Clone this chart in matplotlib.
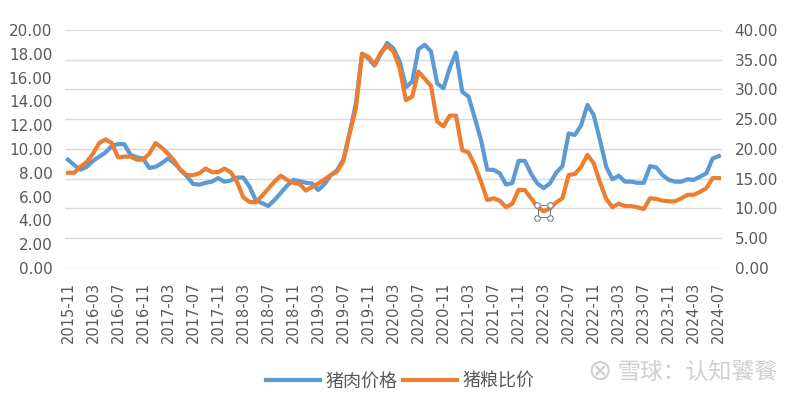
import matplotlib
matplotlib.use("Agg")
import matplotlib.pyplot as plt
import matplotlib.transforms as mtransforms
import numpy as np
import pandas as pd

plt.rcParams['font.family'] = ['DejaVu Sans', 'Noto Sans CJK SC']

months = [p.strftime('%Y-%m') for p in pd.period_range('2015-11', '2024-07', freq='M')]

# 猪肉价格 (right axis)
pork_price = [18.2, 17.3, 16.5, 17.0, 18.0, 18.7, 19.4, 20.5, 20.8, 20.8,
              19.0, 18.6, 18.4, 16.8, 17.0, 17.6, 18.4, 17.6, 16.5, 15.4,
              14.1, 14.0, 14.3, 14.5, 15.1, 14.5, 14.7, 15.2, 15.2, 13.7,
              11.4, 10.9, 10.4, 11.4, 12.6, 13.8, 14.8, 14.6, 14.3, 14.2,
              13.1, 14.1, 15.6, 16.4, 18.2, 22.6, 27.6, 36.0, 35.2, 34.0,
              36.0, 37.8, 36.9, 34.7, 30.4, 31.3, 36.75, 37.5, 36.4, 31.0,
              30.2, 33.6, 36.2, 29.6, 28.8, 25.2, 21.5, 16.5, 16.5, 15.9,
              14.0, 14.3, 18.0, 18.0, 15.8, 14.2, 13.4, 14.2, 16.0, 17.1,
              22.6, 22.35, 24.0, 27.4, 25.7, 21.5, 17.0, 14.9, 15.5, 14.5,
              14.5, 14.3, 14.3, 17.1, 16.9, 15.6, 14.8, 14.5, 14.5, 14.9,
              14.8, 15.35, 15.9, 18.4, 18.8]

# 猪粮比价 (left axis)
hog_grain_ratio = [8.0, 8.0, 8.5, 8.9, 9.6, 10.5, 10.8, 10.5, 9.3, 9.35,
                   9.35, 9.1, 9.1, 9.6, 10.5, 10.1, 9.6, 9.0, 8.2, 7.8,
                   7.8, 7.95, 8.35, 8.05, 8.05, 8.35, 8.05, 7.25, 5.95, 5.55,
                   5.5, 6.05, 6.65, 7.25, 7.75, 7.4, 7.15, 7.05, 6.5, 6.8,
                   7.1, 7.45, 7.8, 8.1, 8.95, 11.3, 13.4, 18.0, 17.75, 17.1,
                   18.1, 18.65, 18.2, 16.8, 14.1, 14.4, 16.5, 15.9, 15.3, 12.3,
                   11.9, 12.8, 12.8, 9.9, 9.7, 8.65, 7.25, 5.7, 5.85, 5.65,
                   5.1, 5.4, 6.55, 6.55, 5.85, 5.15, 4.75, 5.0, 5.5, 5.85,
                   7.8, 7.9, 8.5, 9.5, 8.8, 7.2, 5.8, 5.1, 5.4, 5.2,
                   5.2, 5.1, 4.95, 5.85, 5.8, 5.65, 5.6, 5.6, 5.85, 6.15,
                   6.15, 6.4, 6.7, 7.55, 7.55]

left_ticks = [0, 2, 4, 6, 8, 10, 12, 14, 16, 18, 20]
right_ticks = [0, 5, 10, 15, 20, 25, 30, 35, 40]

BLUE = '#5B9BD5'
ORANGE = '#ED7D31'
TXT = '#595959'

fig = plt.figure(figsize=(8, 3.94), dpi=100)
ax = fig.add_axes([0.081, 0.32, 0.8215, 0.604])
ax2 = ax.twinx()
ax.set_zorder(ax2.get_zorder() + 1)
ax.patch.set_visible(False)

x = np.arange(len(months))
l1, = ax2.plot(x, pork_price, color=BLUE, lw=3.0, solid_joinstyle='round', label='猪肉价格')
l2, = ax.plot(x, hog_grain_ratio, color=ORANGE, lw=3.0, solid_joinstyle='round', label='猪粮比价')

# selected point marker artifact
sel = 76
ax.plot([sel], [hog_grain_ratio[sel]], marker='s', ms=9, mfc='none', mec='#7F7F7F', mew=0.8, zorder=5)
for dx, dy in [(-4.5, -4.5), (4.5, -4.5), (-4.5, 4.5), (4.5, 4.5)]:
    tr = mtransforms.offset_copy(ax.transData, fig=fig, x=dx, y=dy, units='points')
    ax.plot([sel], [hog_grain_ratio[sel]], marker='o', ms=4, mfc='white', mec='#7F7F7F', mew=0.8,
            transform=tr, zorder=6)

ax.set_xlim(-0.5, len(months) - 0.5)
ax.set_ylim(0, 20)
ax2.set_ylim(0, 40)
ax.set_yticks(left_ticks)
ax.set_yticklabels([f'{v:.2f}' for v in left_ticks])
ax2.set_yticks(right_ticks)
ax2.set_yticklabels([f'{v:.2f}' for v in right_ticks])
ax.set_xticks(x[::4])
ax.set_xticklabels(months[::4], rotation=90)

ax2.grid(axis='y', color='#D9D9D9', lw=1.0)
ax2.set_axisbelow(True)
for a in (ax, ax2):
    for s in a.spines.values():
        s.set_visible(False)
    a.tick_params(length=0, colors=TXT, labelsize=11)
ax.tick_params(axis='x', labelsize=10.5, pad=10)
ax.tick_params(axis='y', pad=9)
ax2.tick_params(axis='y', pad=9)

fig.legend(handles=[l1, l2], loc='center', bbox_to_anchor=(0.5, 0.032), ncol=2, frameon=False,
           prop={'family': ['Noto Sans CJK SC'], 'size': 13}, labelcolor=TXT,
           handlelength=3.0, handletextpad=0.3, columnspacing=0.3)

fig.text(0.972, 0.056, '雪球：认知饕餮', ha='right', va='center', fontsize=16.5, color='#D0D0D0',
         family=['Noto Sans CJK SC'])
fig.text(0.749, 0.056, '⊗', ha='center', va='center', fontsize=21, color='#D0D0D0',
         family=['DejaVu Sans'])

fig.savefig('out.png', dpi=100)
